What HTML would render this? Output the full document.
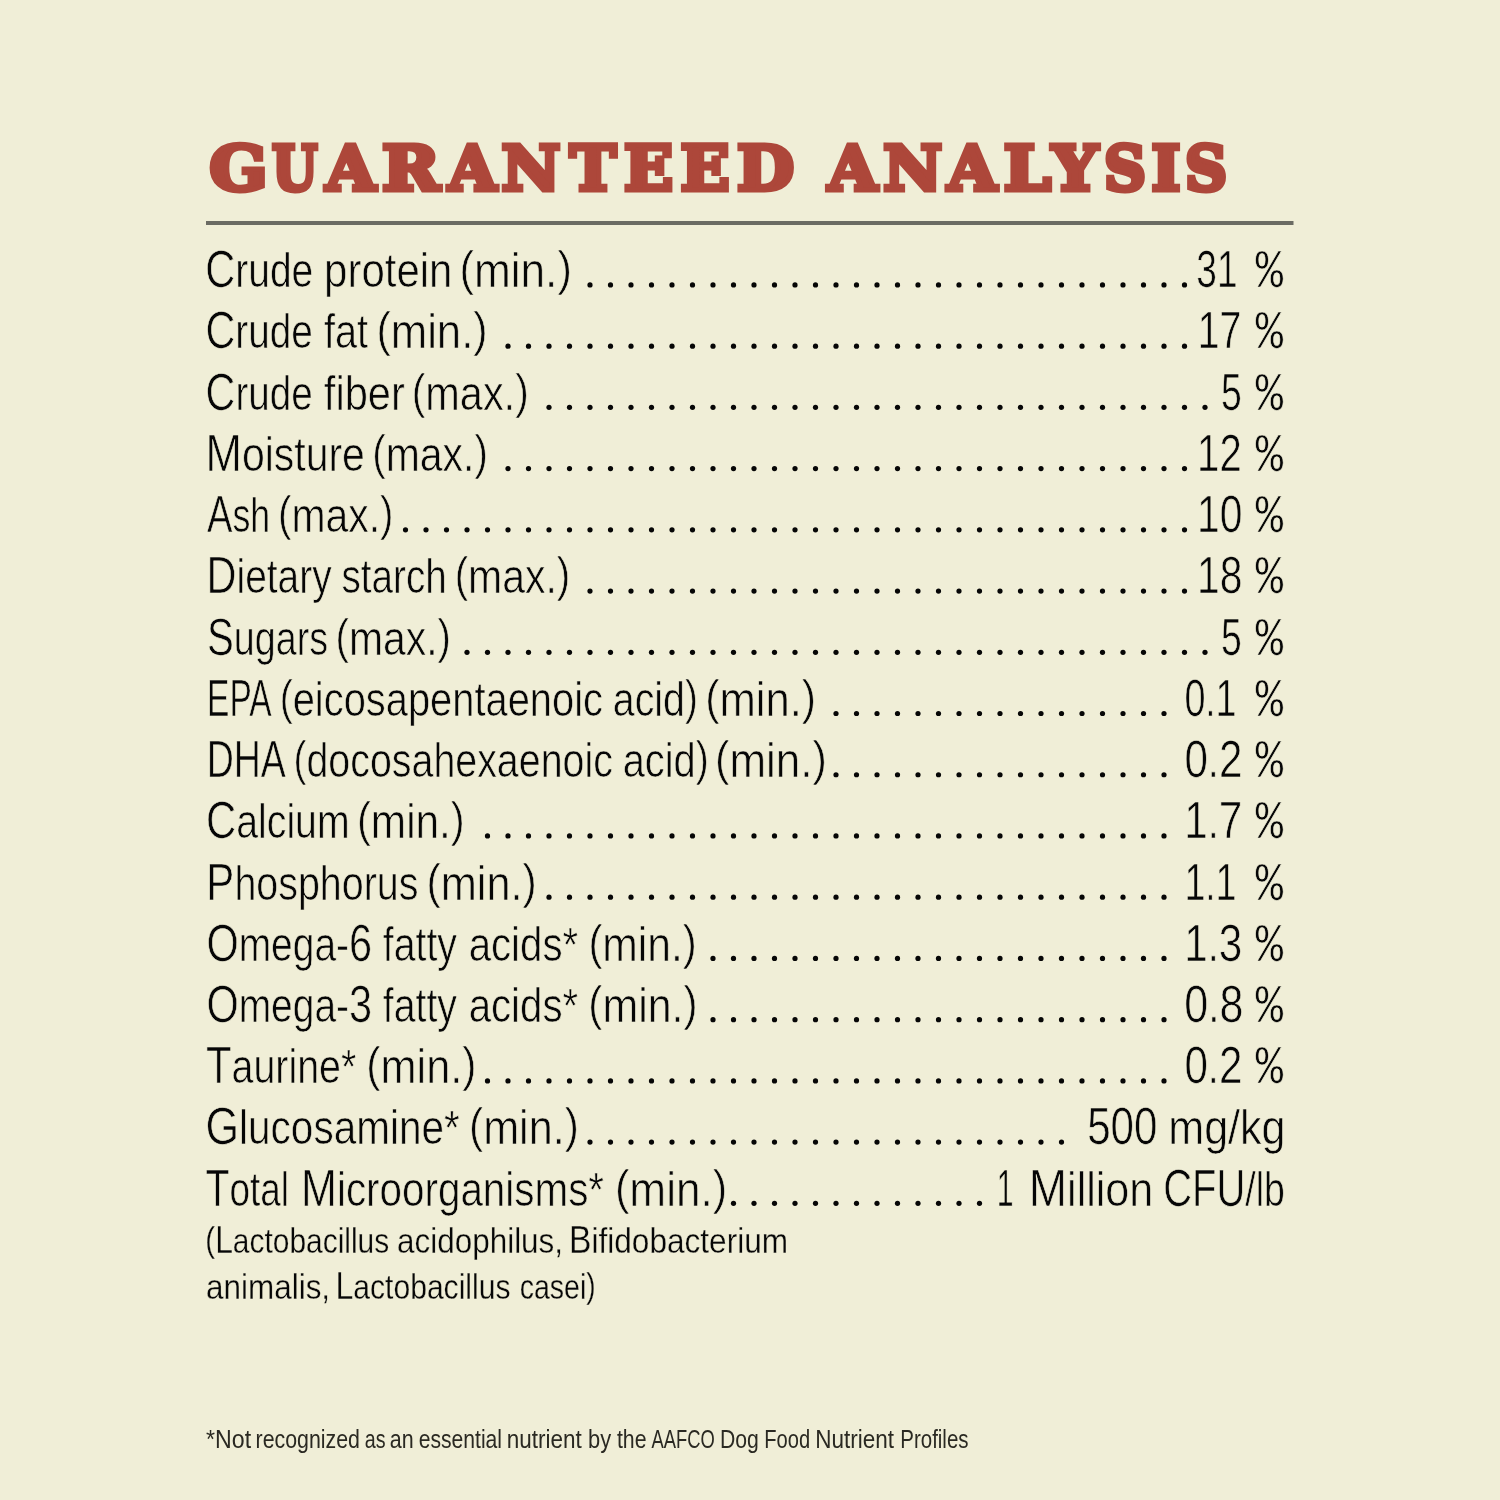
<!DOCTYPE html>
<html lang="en"><head><meta charset="utf-8"><title>Guaranteed Analysis</title>
<style>html,body{margin:0;padding:0;background:#f0eed7;overflow:hidden;}svg{display:block;will-change:transform;}</style></head>
<body>
<svg width="1500" height="1500" viewBox="0 0 1500 1500">
<rect width="1500" height="1500" fill="#f0eed7"/>
<text y="190.00" font-family="DejaVu Serif, serif" font-weight="bold" font-size="61.73" fill="#ad473a" stroke="#ad473a" stroke-width="5.0" stroke-linejoin="miter"><tspan x="209.60" textLength="58.02" lengthAdjust="spacingAndGlyphs">G</tspan><tspan x="272.03" textLength="45.41" lengthAdjust="spacingAndGlyphs">U</tspan><tspan x="325.81" textLength="49.87" lengthAdjust="spacingAndGlyphs">A</tspan><tspan x="381.96" textLength="57.82" lengthAdjust="spacingAndGlyphs">R</tspan><tspan x="448.30" textLength="48.19" lengthAdjust="spacingAndGlyphs">A</tspan><tspan x="501.48" textLength="58.89" lengthAdjust="spacingAndGlyphs">N</tspan><tspan x="569.72" textLength="46.39" lengthAdjust="spacingAndGlyphs">T</tspan><tspan x="623.99" textLength="49.10" lengthAdjust="spacingAndGlyphs">E</tspan><tspan x="680.59" textLength="49.10" lengthAdjust="spacingAndGlyphs">E</tspan><tspan x="737.08" textLength="57.02" lengthAdjust="spacingAndGlyphs">D</tspan> <tspan x="827.96" textLength="49.16" lengthAdjust="spacingAndGlyphs">A</tspan><tspan x="883.38" textLength="58.89" lengthAdjust="spacingAndGlyphs">N</tspan><tspan x="947.46" textLength="49.16" lengthAdjust="spacingAndGlyphs">A</tspan><tspan x="1003.67" textLength="47.18" lengthAdjust="spacingAndGlyphs">L</tspan><tspan x="1052.07" textLength="45.93" lengthAdjust="spacingAndGlyphs">Y</tspan><tspan x="1104.02" textLength="42.02" lengthAdjust="spacingAndGlyphs">S</tspan><tspan x="1151.51" textLength="28.93" lengthAdjust="spacingAndGlyphs">I</tspan><tspan x="1185.02" textLength="42.12" lengthAdjust="spacingAndGlyphs">S</tspan></text>
<rect x="206" y="221" width="1087.5" height="4" fill="#6b6b63"/>
<text y="287.20" font-family="'Liberation Sans', sans-serif" font-size="48.8" fill="#060606" stroke="#f0eed7" stroke-width="0.67"><tspan x="205.20" textLength="108.08" lengthAdjust="spacingAndGlyphs"><tspan font-size="52.00">C</tspan>rude</tspan> <tspan x="324.12" textLength="128.23" lengthAdjust="spacingAndGlyphs">protein</tspan> <tspan x="459.48" textLength="112.37" lengthAdjust="spacingAndGlyphs"><tspan font-size="48.00" baseline-shift="2.00">(</tspan>min.<tspan font-size="48.00" baseline-shift="2.00">)</tspan></tspan></text>
<text y="287.20" font-family="'Liberation Sans', sans-serif" font-size="48.8" fill="#060606" stroke="#f0eed7" stroke-width="0.67"><tspan x="1196.37" textLength="41.25" lengthAdjust="spacingAndGlyphs"><tspan font-size="52.00">31</tspan></tspan> <tspan x="1255.40" textLength="27.69" lengthAdjust="spacingAndGlyphs" font-family="'Liberation Mono', monospace" font-size="54">%</tspan></text>
<text y="348.43" font-family="'Liberation Sans', sans-serif" font-size="48.8" fill="#060606" stroke="#f0eed7" stroke-width="0.67"><tspan x="205.52" textLength="107.36" lengthAdjust="spacingAndGlyphs"><tspan font-size="52.00">C</tspan>rude</tspan> <tspan x="323.89" textLength="44.13" lengthAdjust="spacingAndGlyphs">fat</tspan> <tspan x="376.41" textLength="111.21" lengthAdjust="spacingAndGlyphs"><tspan font-size="48.00" baseline-shift="2.00">(</tspan>min.<tspan font-size="48.00" baseline-shift="2.00">)</tspan></tspan></text>
<text y="348.43" font-family="'Liberation Sans', sans-serif" font-size="48.8" fill="#060606" stroke="#f0eed7" stroke-width="0.67"><tspan x="1197.79" textLength="43.55" lengthAdjust="spacingAndGlyphs"><tspan font-size="52.00">17</tspan></tspan> <tspan x="1255.40" textLength="27.69" lengthAdjust="spacingAndGlyphs" font-family="'Liberation Mono', monospace" font-size="54">%</tspan></text>
<text y="409.66" font-family="'Liberation Sans', sans-serif" font-size="48.8" fill="#060606" stroke="#f0eed7" stroke-width="0.67"><tspan x="205.62" textLength="107.15" lengthAdjust="spacingAndGlyphs"><tspan font-size="52.00">C</tspan>rude</tspan> <tspan x="323.85" textLength="80.95" lengthAdjust="spacingAndGlyphs">fiber</tspan> <tspan x="411.75" textLength="116.96" lengthAdjust="spacingAndGlyphs"><tspan font-size="48.00" baseline-shift="2.00">(</tspan>max.<tspan font-size="48.00" baseline-shift="2.00">)</tspan></tspan></text>
<text y="409.66" font-family="'Liberation Sans', sans-serif" font-size="48.8" fill="#060606" stroke="#f0eed7" stroke-width="0.67"><tspan x="1220.96" textLength="20.82" lengthAdjust="spacingAndGlyphs"><tspan font-size="52.00">5</tspan></tspan> <tspan x="1255.40" textLength="27.69" lengthAdjust="spacingAndGlyphs" font-family="'Liberation Mono', monospace" font-size="54">%</tspan></text>
<text y="470.89" font-family="'Liberation Sans', sans-serif" font-size="48.8" fill="#060606" stroke="#f0eed7" stroke-width="0.67"><tspan x="205.54" textLength="159.37" lengthAdjust="spacingAndGlyphs"><tspan font-size="52.00">M</tspan>oisture</tspan> <tspan x="372.28" textLength="115.60" lengthAdjust="spacingAndGlyphs"><tspan font-size="48.00" baseline-shift="2.00">(</tspan>max.<tspan font-size="48.00" baseline-shift="2.00">)</tspan></tspan></text>
<text y="470.89" font-family="'Liberation Sans', sans-serif" font-size="48.8" fill="#060606" stroke="#f0eed7" stroke-width="0.67"><tspan x="1197.12" textLength="44.57" lengthAdjust="spacingAndGlyphs"><tspan font-size="52.00">12</tspan></tspan> <tspan x="1255.40" textLength="27.69" lengthAdjust="spacingAndGlyphs" font-family="'Liberation Mono', monospace" font-size="54">%</tspan></text>
<text y="532.12" font-family="'Liberation Sans', sans-serif" font-size="48.8" fill="#060606" stroke="#f0eed7" stroke-width="0.67"><tspan x="207.00" textLength="63.27" lengthAdjust="spacingAndGlyphs"><tspan font-size="52.00">A</tspan>sh</tspan> <tspan x="278.09" textLength="115.39" lengthAdjust="spacingAndGlyphs"><tspan font-size="48.00" baseline-shift="2.00">(</tspan>max.<tspan font-size="48.00" baseline-shift="2.00">)</tspan></tspan></text>
<text y="532.12" font-family="'Liberation Sans', sans-serif" font-size="48.8" fill="#060606" stroke="#f0eed7" stroke-width="0.67"><tspan x="1197.06" textLength="45.39" lengthAdjust="spacingAndGlyphs"><tspan font-size="52.00">10</tspan></tspan> <tspan x="1255.40" textLength="27.69" lengthAdjust="spacingAndGlyphs" font-family="'Liberation Mono', monospace" font-size="54">%</tspan></text>
<text y="593.35" font-family="'Liberation Sans', sans-serif" font-size="48.8" fill="#060606" stroke="#f0eed7" stroke-width="0.67"><tspan x="206.61" textLength="125.00" lengthAdjust="spacingAndGlyphs"><tspan font-size="52.00">D</tspan>ietary</tspan> <tspan x="341.52" textLength="105.27" lengthAdjust="spacingAndGlyphs">starch</tspan> <tspan x="454.68" textLength="115.60" lengthAdjust="spacingAndGlyphs"><tspan font-size="48.00" baseline-shift="2.00">(</tspan>max.<tspan font-size="48.00" baseline-shift="2.00">)</tspan></tspan></text>
<text y="593.35" font-family="'Liberation Sans', sans-serif" font-size="48.8" fill="#060606" stroke="#f0eed7" stroke-width="0.67"><tspan x="1197.06" textLength="45.39" lengthAdjust="spacingAndGlyphs"><tspan font-size="52.00">18</tspan></tspan> <tspan x="1255.40" textLength="27.69" lengthAdjust="spacingAndGlyphs" font-family="'Liberation Mono', monospace" font-size="54">%</tspan></text>
<text y="654.58" font-family="'Liberation Sans', sans-serif" font-size="48.8" fill="#060606" stroke="#f0eed7" stroke-width="0.67"><tspan x="206.95" textLength="121.11" lengthAdjust="spacingAndGlyphs"><tspan font-size="52.00">S</tspan>ugars</tspan> <tspan x="335.59" textLength="115.39" lengthAdjust="spacingAndGlyphs"><tspan font-size="48.00" baseline-shift="2.00">(</tspan>max.<tspan font-size="48.00" baseline-shift="2.00">)</tspan></tspan></text>
<text y="654.58" font-family="'Liberation Sans', sans-serif" font-size="48.8" fill="#060606" stroke="#f0eed7" stroke-width="0.67"><tspan x="1220.96" textLength="20.82" lengthAdjust="spacingAndGlyphs"><tspan font-size="52.00">5</tspan></tspan> <tspan x="1255.40" textLength="27.69" lengthAdjust="spacingAndGlyphs" font-family="'Liberation Mono', monospace" font-size="54">%</tspan></text>
<text y="715.81" font-family="'Liberation Sans', sans-serif" font-size="48.8" fill="#060606" stroke="#f0eed7" stroke-width="0.67"><tspan x="207.02" textLength="64.61" lengthAdjust="spacingAndGlyphs"><tspan font-size="52.00">EPA</tspan></tspan> <tspan x="279.65" textLength="323.31" lengthAdjust="spacingAndGlyphs"><tspan font-size="48.00" baseline-shift="2.00">(</tspan>eicosapentaenoic</tspan> <tspan x="612.79" textLength="85.04" lengthAdjust="spacingAndGlyphs">acid<tspan font-size="48.00" baseline-shift="2.00">)</tspan></tspan> <tspan x="705.22" textLength="110.90" lengthAdjust="spacingAndGlyphs"><tspan font-size="48.00" baseline-shift="2.00">(</tspan>min.<tspan font-size="48.00" baseline-shift="2.00">)</tspan></tspan></text>
<text y="715.81" font-family="'Liberation Sans', sans-serif" font-size="48.8" fill="#060606" stroke="#f0eed7" stroke-width="0.67"><tspan x="1184.55" textLength="51.90" lengthAdjust="spacingAndGlyphs"><tspan font-size="52.00">0</tspan>.<tspan font-size="52.00">1</tspan></tspan> <tspan x="1255.40" textLength="27.69" lengthAdjust="spacingAndGlyphs" font-family="'Liberation Mono', monospace" font-size="54">%</tspan></text>
<text y="777.04" font-family="'Liberation Sans', sans-serif" font-size="48.8" fill="#060606" stroke="#f0eed7" stroke-width="0.67"><tspan x="206.72" textLength="79.16" lengthAdjust="spacingAndGlyphs"><tspan font-size="52.00">DHA</tspan></tspan> <tspan x="293.58" textLength="319.28" lengthAdjust="spacingAndGlyphs"><tspan font-size="48.00" baseline-shift="2.00">(</tspan>docosahexaenoic</tspan> <tspan x="622.67" textLength="86.19" lengthAdjust="spacingAndGlyphs">acid<tspan font-size="48.00" baseline-shift="2.00">)</tspan></tspan> <tspan x="715.10" textLength="111.74" lengthAdjust="spacingAndGlyphs"><tspan font-size="48.00" baseline-shift="2.00">(</tspan>min.<tspan font-size="48.00" baseline-shift="2.00">)</tspan></tspan></text>
<text y="777.04" font-family="'Liberation Sans', sans-serif" font-size="48.8" fill="#060606" stroke="#f0eed7" stroke-width="0.67"><tspan x="1184.38" textLength="57.98" lengthAdjust="spacingAndGlyphs"><tspan font-size="52.00">0</tspan>.<tspan font-size="52.00">2</tspan></tspan> <tspan x="1255.40" textLength="27.69" lengthAdjust="spacingAndGlyphs" font-family="'Liberation Mono', monospace" font-size="54">%</tspan></text>
<text y="838.27" font-family="'Liberation Sans', sans-serif" font-size="48.8" fill="#060606" stroke="#f0eed7" stroke-width="0.67"><tspan x="205.99" textLength="143.69" lengthAdjust="spacingAndGlyphs"><tspan font-size="52.00">C</tspan>alcium</tspan> <tspan x="357.00" textLength="107.74" lengthAdjust="spacingAndGlyphs"><tspan font-size="48.00" baseline-shift="2.00">(</tspan>min.<tspan font-size="48.00" baseline-shift="2.00">)</tspan></tspan></text>
<text y="838.27" font-family="'Liberation Sans', sans-serif" font-size="48.8" fill="#060606" stroke="#f0eed7" stroke-width="0.67"><tspan x="1184.24" textLength="58.11" lengthAdjust="spacingAndGlyphs"><tspan font-size="52.00">1</tspan>.<tspan font-size="52.00">7</tspan></tspan> <tspan x="1255.40" textLength="27.69" lengthAdjust="spacingAndGlyphs" font-family="'Liberation Mono', monospace" font-size="54">%</tspan></text>
<text y="899.50" font-family="'Liberation Sans', sans-serif" font-size="48.8" fill="#060606" stroke="#f0eed7" stroke-width="0.67"><tspan x="206.37" textLength="212.11" lengthAdjust="spacingAndGlyphs"><tspan font-size="52.00">P</tspan>hosphorus</tspan> <tspan x="426.54" textLength="110.27" lengthAdjust="spacingAndGlyphs"><tspan font-size="48.00" baseline-shift="2.00">(</tspan>min.<tspan font-size="48.00" baseline-shift="2.00">)</tspan></tspan></text>
<text y="899.50" font-family="'Liberation Sans', sans-serif" font-size="48.8" fill="#060606" stroke="#f0eed7" stroke-width="0.67"><tspan x="1184.60" textLength="51.85" lengthAdjust="spacingAndGlyphs"><tspan font-size="52.00">1</tspan>.<tspan font-size="52.00">1</tspan></tspan> <tspan x="1255.40" textLength="27.69" lengthAdjust="spacingAndGlyphs" font-family="'Liberation Mono', monospace" font-size="54">%</tspan></text>
<text y="960.73" font-family="'Liberation Sans', sans-serif" font-size="48.8" fill="#060606" stroke="#f0eed7" stroke-width="0.67"><tspan x="206.40" textLength="165.75" lengthAdjust="spacingAndGlyphs"><tspan font-size="52.00">O</tspan>mega-<tspan font-size="52.00">6</tspan></tspan> <tspan x="382.80" textLength="74.08" lengthAdjust="spacingAndGlyphs">fatty</tspan> <tspan x="468.65" textLength="109.49" lengthAdjust="spacingAndGlyphs">acids*</tspan> <tspan x="588.38" textLength="108.37" lengthAdjust="spacingAndGlyphs"><tspan font-size="48.00" baseline-shift="2.00">(</tspan>min.<tspan font-size="48.00" baseline-shift="2.00">)</tspan></tspan></text>
<text y="960.73" font-family="'Liberation Sans', sans-serif" font-size="48.8" fill="#060606" stroke="#f0eed7" stroke-width="0.67"><tspan x="1184.24" textLength="58.11" lengthAdjust="spacingAndGlyphs"><tspan font-size="52.00">1</tspan>.<tspan font-size="52.00">3</tspan></tspan> <tspan x="1255.40" textLength="27.69" lengthAdjust="spacingAndGlyphs" font-family="'Liberation Mono', monospace" font-size="54">%</tspan></text>
<text y="1021.96" font-family="'Liberation Sans', sans-serif" font-size="48.8" fill="#060606" stroke="#f0eed7" stroke-width="0.67"><tspan x="206.40" textLength="165.75" lengthAdjust="spacingAndGlyphs"><tspan font-size="52.00">O</tspan>mega-<tspan font-size="52.00">3</tspan></tspan> <tspan x="382.80" textLength="74.08" lengthAdjust="spacingAndGlyphs">fatty</tspan> <tspan x="468.65" textLength="109.49" lengthAdjust="spacingAndGlyphs">acids*</tspan> <tspan x="588.36" textLength="109.11" lengthAdjust="spacingAndGlyphs"><tspan font-size="48.00" baseline-shift="2.00">(</tspan>min.<tspan font-size="48.00" baseline-shift="2.00">)</tspan></tspan></text>
<text y="1021.96" font-family="'Liberation Sans', sans-serif" font-size="48.8" fill="#060606" stroke="#f0eed7" stroke-width="0.67"><tspan x="1184.34" textLength="59.15" lengthAdjust="spacingAndGlyphs"><tspan font-size="52.00">0</tspan>.<tspan font-size="52.00">8</tspan></tspan> <tspan x="1255.40" textLength="27.69" lengthAdjust="spacingAndGlyphs" font-family="'Liberation Mono', monospace" font-size="54">%</tspan></text>
<text y="1083.19" font-family="'Liberation Sans', sans-serif" font-size="48.8" fill="#060606" stroke="#f0eed7" stroke-width="0.67"><tspan x="205.99" textLength="150.33" lengthAdjust="spacingAndGlyphs"><tspan font-size="52.00">T</tspan>aurine*</tspan> <tspan x="366.34" textLength="110.06" lengthAdjust="spacingAndGlyphs"><tspan font-size="48.00" baseline-shift="2.00">(</tspan>min.<tspan font-size="48.00" baseline-shift="2.00">)</tspan></tspan></text>
<text y="1083.19" font-family="'Liberation Sans', sans-serif" font-size="48.8" fill="#060606" stroke="#f0eed7" stroke-width="0.67"><tspan x="1184.38" textLength="57.98" lengthAdjust="spacingAndGlyphs"><tspan font-size="52.00">0</tspan>.<tspan font-size="52.00">2</tspan></tspan> <tspan x="1255.40" textLength="27.69" lengthAdjust="spacingAndGlyphs" font-family="'Liberation Mono', monospace" font-size="54">%</tspan></text>
<text y="1144.42" font-family="'Liberation Sans', sans-serif" font-size="48.8" fill="#060606" stroke="#f0eed7" stroke-width="0.67"><tspan x="205.51" textLength="254.24" lengthAdjust="spacingAndGlyphs"><tspan font-size="52.00">G</tspan>lucosamine*</tspan> <tspan x="469.05" textLength="109.74" lengthAdjust="spacingAndGlyphs"><tspan font-size="48.00" baseline-shift="2.00">(</tspan>min.<tspan font-size="48.00" baseline-shift="2.00">)</tspan></tspan></text>
<text y="1144.42" font-family="'Liberation Sans', sans-serif" font-size="48.8" fill="#060606" stroke="#f0eed7" stroke-width="0.67"><tspan x="1087.18" textLength="70.25" lengthAdjust="spacingAndGlyphs"><tspan font-size="52.00">500</tspan></tspan> <tspan x="1168.25" textLength="117.30" lengthAdjust="spacingAndGlyphs">mg/kg</tspan></text>
<text y="1205.65" font-family="'Liberation Sans', sans-serif" font-size="48.8" fill="#060606" stroke="#f0eed7" stroke-width="0.67"><tspan x="205.54" textLength="83.47" lengthAdjust="spacingAndGlyphs"><tspan font-size="52.00">T</tspan>otal</tspan> <tspan x="301.09" textLength="302.98" lengthAdjust="spacingAndGlyphs"><tspan font-size="52.00">M</tspan>icroorganisms*</tspan> <tspan x="614.88" textLength="112.37" lengthAdjust="spacingAndGlyphs"><tspan font-size="48.00" baseline-shift="2.00">(</tspan>min.<tspan font-size="48.00" baseline-shift="2.00">)</tspan></tspan></text>
<text y="1205.65" font-family="'Liberation Sans', sans-serif" font-size="48.8" fill="#060606" stroke="#f0eed7" stroke-width="0.67"><tspan x="996.87" textLength="16.83" lengthAdjust="spacingAndGlyphs"><tspan font-size="52.00">1</tspan></tspan> <tspan x="1028.77" textLength="124.57" lengthAdjust="spacingAndGlyphs"><tspan font-size="52.00">M</tspan>illion</tspan> <tspan x="1163.30" textLength="121.56" lengthAdjust="spacingAndGlyphs"><tspan font-size="52.00">CFU</tspan>/lb</tspan></text>
<text y="1252.70" font-family="'Liberation Sans', sans-serif" font-size="35.88" fill="#060606" stroke="#f0eed7" stroke-width="0.30"><tspan x="205.33" textLength="183.89" lengthAdjust="spacingAndGlyphs"><tspan font-size="35.29" baseline-shift="1.47">(</tspan><tspan font-size="38.24">L</tspan>actobacillus</tspan> <tspan x="397.12" textLength="165.91" lengthAdjust="spacingAndGlyphs">acidophilus,</tspan> <tspan x="569.06" textLength="218.96" lengthAdjust="spacingAndGlyphs"><tspan font-size="38.24">B</tspan>ifidobacterium</tspan></text>
<text y="1299.00" font-family="'Liberation Sans', sans-serif" font-size="35.88" fill="#060606" stroke="#f0eed7" stroke-width="0.30"><tspan x="206.12" textLength="124.00" lengthAdjust="spacingAndGlyphs">animalis,</tspan> <tspan x="335.48" textLength="175.02" lengthAdjust="spacingAndGlyphs"><tspan font-size="38.24">L</tspan>actobacillus</tspan> <tspan x="519.71" textLength="75.89" lengthAdjust="spacingAndGlyphs">casei<tspan font-size="35.29" baseline-shift="1.47">)</tspan></tspan></text>
<text y="1447.70" font-family="'Liberation Sans', sans-serif" font-size="25.7" fill="#2a2922"><tspan x="206.00" textLength="45.09" lengthAdjust="spacingAndGlyphs">*Not</tspan> <tspan x="255.54" textLength="104.45" lengthAdjust="spacingAndGlyphs">recognized</tspan> <tspan x="364.74" textLength="20.74" lengthAdjust="spacingAndGlyphs">as</tspan> <tspan x="389.77" textLength="23.85" lengthAdjust="spacingAndGlyphs">an</tspan> <tspan x="418.68" textLength="83.37" lengthAdjust="spacingAndGlyphs">essential</tspan> <tspan x="506.85" textLength="74.98" lengthAdjust="spacingAndGlyphs">nutrient</tspan> <tspan x="588.10" textLength="23.12" lengthAdjust="spacingAndGlyphs">by</tspan> <tspan x="616.90" textLength="29.60" lengthAdjust="spacingAndGlyphs">the</tspan> <tspan x="651.50" textLength="63.27" lengthAdjust="spacingAndGlyphs">AAFCO</tspan> <tspan x="719.95" textLength="38.88" lengthAdjust="spacingAndGlyphs">Dog</tspan> <tspan x="764.23" textLength="45.89" lengthAdjust="spacingAndGlyphs">Food</tspan> <tspan x="815.15" textLength="78.81" lengthAdjust="spacingAndGlyphs">Nutrient</tspan> <tspan x="900.31" textLength="68.22" lengthAdjust="spacingAndGlyphs">Profiles</tspan></text>
<g fill="#060606"><circle cx="590.00" cy="284.90" r="2.6"/><circle cx="610.50" cy="284.90" r="2.6"/><circle cx="631.00" cy="284.90" r="2.6"/><circle cx="651.50" cy="284.90" r="2.6"/><circle cx="672.00" cy="284.90" r="2.6"/><circle cx="692.50" cy="284.90" r="2.6"/><circle cx="713.00" cy="284.90" r="2.6"/><circle cx="733.50" cy="284.90" r="2.6"/><circle cx="754.00" cy="284.90" r="2.6"/><circle cx="774.50" cy="284.90" r="2.6"/><circle cx="795.00" cy="284.90" r="2.6"/><circle cx="815.50" cy="284.90" r="2.6"/><circle cx="836.00" cy="284.90" r="2.6"/><circle cx="856.50" cy="284.90" r="2.6"/><circle cx="877.00" cy="284.90" r="2.6"/><circle cx="897.50" cy="284.90" r="2.6"/><circle cx="918.00" cy="284.90" r="2.6"/><circle cx="938.50" cy="284.90" r="2.6"/><circle cx="959.00" cy="284.90" r="2.6"/><circle cx="979.50" cy="284.90" r="2.6"/><circle cx="1000.00" cy="284.90" r="2.6"/><circle cx="1020.50" cy="284.90" r="2.6"/><circle cx="1041.00" cy="284.90" r="2.6"/><circle cx="1061.50" cy="284.90" r="2.6"/><circle cx="1082.00" cy="284.90" r="2.6"/><circle cx="1102.50" cy="284.90" r="2.6"/><circle cx="1123.00" cy="284.90" r="2.6"/><circle cx="1143.50" cy="284.90" r="2.6"/><circle cx="1164.00" cy="284.90" r="2.6"/><circle cx="1184.50" cy="284.90" r="2.6"/><circle cx="508.00" cy="346.13" r="2.6"/><circle cx="528.50" cy="346.13" r="2.6"/><circle cx="549.00" cy="346.13" r="2.6"/><circle cx="569.50" cy="346.13" r="2.6"/><circle cx="590.00" cy="346.13" r="2.6"/><circle cx="610.50" cy="346.13" r="2.6"/><circle cx="631.00" cy="346.13" r="2.6"/><circle cx="651.50" cy="346.13" r="2.6"/><circle cx="672.00" cy="346.13" r="2.6"/><circle cx="692.50" cy="346.13" r="2.6"/><circle cx="713.00" cy="346.13" r="2.6"/><circle cx="733.50" cy="346.13" r="2.6"/><circle cx="754.00" cy="346.13" r="2.6"/><circle cx="774.50" cy="346.13" r="2.6"/><circle cx="795.00" cy="346.13" r="2.6"/><circle cx="815.50" cy="346.13" r="2.6"/><circle cx="836.00" cy="346.13" r="2.6"/><circle cx="856.50" cy="346.13" r="2.6"/><circle cx="877.00" cy="346.13" r="2.6"/><circle cx="897.50" cy="346.13" r="2.6"/><circle cx="918.00" cy="346.13" r="2.6"/><circle cx="938.50" cy="346.13" r="2.6"/><circle cx="959.00" cy="346.13" r="2.6"/><circle cx="979.50" cy="346.13" r="2.6"/><circle cx="1000.00" cy="346.13" r="2.6"/><circle cx="1020.50" cy="346.13" r="2.6"/><circle cx="1041.00" cy="346.13" r="2.6"/><circle cx="1061.50" cy="346.13" r="2.6"/><circle cx="1082.00" cy="346.13" r="2.6"/><circle cx="1102.50" cy="346.13" r="2.6"/><circle cx="1123.00" cy="346.13" r="2.6"/><circle cx="1143.50" cy="346.13" r="2.6"/><circle cx="1164.00" cy="346.13" r="2.6"/><circle cx="1184.50" cy="346.13" r="2.6"/><circle cx="549.00" cy="407.36" r="2.6"/><circle cx="569.50" cy="407.36" r="2.6"/><circle cx="590.00" cy="407.36" r="2.6"/><circle cx="610.50" cy="407.36" r="2.6"/><circle cx="631.00" cy="407.36" r="2.6"/><circle cx="651.50" cy="407.36" r="2.6"/><circle cx="672.00" cy="407.36" r="2.6"/><circle cx="692.50" cy="407.36" r="2.6"/><circle cx="713.00" cy="407.36" r="2.6"/><circle cx="733.50" cy="407.36" r="2.6"/><circle cx="754.00" cy="407.36" r="2.6"/><circle cx="774.50" cy="407.36" r="2.6"/><circle cx="795.00" cy="407.36" r="2.6"/><circle cx="815.50" cy="407.36" r="2.6"/><circle cx="836.00" cy="407.36" r="2.6"/><circle cx="856.50" cy="407.36" r="2.6"/><circle cx="877.00" cy="407.36" r="2.6"/><circle cx="897.50" cy="407.36" r="2.6"/><circle cx="918.00" cy="407.36" r="2.6"/><circle cx="938.50" cy="407.36" r="2.6"/><circle cx="959.00" cy="407.36" r="2.6"/><circle cx="979.50" cy="407.36" r="2.6"/><circle cx="1000.00" cy="407.36" r="2.6"/><circle cx="1020.50" cy="407.36" r="2.6"/><circle cx="1041.00" cy="407.36" r="2.6"/><circle cx="1061.50" cy="407.36" r="2.6"/><circle cx="1082.00" cy="407.36" r="2.6"/><circle cx="1102.50" cy="407.36" r="2.6"/><circle cx="1123.00" cy="407.36" r="2.6"/><circle cx="1143.50" cy="407.36" r="2.6"/><circle cx="1164.00" cy="407.36" r="2.6"/><circle cx="1184.50" cy="407.36" r="2.6"/><circle cx="1205.00" cy="407.36" r="2.6"/><circle cx="508.00" cy="468.59" r="2.6"/><circle cx="528.50" cy="468.59" r="2.6"/><circle cx="549.00" cy="468.59" r="2.6"/><circle cx="569.50" cy="468.59" r="2.6"/><circle cx="590.00" cy="468.59" r="2.6"/><circle cx="610.50" cy="468.59" r="2.6"/><circle cx="631.00" cy="468.59" r="2.6"/><circle cx="651.50" cy="468.59" r="2.6"/><circle cx="672.00" cy="468.59" r="2.6"/><circle cx="692.50" cy="468.59" r="2.6"/><circle cx="713.00" cy="468.59" r="2.6"/><circle cx="733.50" cy="468.59" r="2.6"/><circle cx="754.00" cy="468.59" r="2.6"/><circle cx="774.50" cy="468.59" r="2.6"/><circle cx="795.00" cy="468.59" r="2.6"/><circle cx="815.50" cy="468.59" r="2.6"/><circle cx="836.00" cy="468.59" r="2.6"/><circle cx="856.50" cy="468.59" r="2.6"/><circle cx="877.00" cy="468.59" r="2.6"/><circle cx="897.50" cy="468.59" r="2.6"/><circle cx="918.00" cy="468.59" r="2.6"/><circle cx="938.50" cy="468.59" r="2.6"/><circle cx="959.00" cy="468.59" r="2.6"/><circle cx="979.50" cy="468.59" r="2.6"/><circle cx="1000.00" cy="468.59" r="2.6"/><circle cx="1020.50" cy="468.59" r="2.6"/><circle cx="1041.00" cy="468.59" r="2.6"/><circle cx="1061.50" cy="468.59" r="2.6"/><circle cx="1082.00" cy="468.59" r="2.6"/><circle cx="1102.50" cy="468.59" r="2.6"/><circle cx="1123.00" cy="468.59" r="2.6"/><circle cx="1143.50" cy="468.59" r="2.6"/><circle cx="1164.00" cy="468.59" r="2.6"/><circle cx="1184.50" cy="468.59" r="2.6"/><circle cx="405.50" cy="529.82" r="2.6"/><circle cx="426.00" cy="529.82" r="2.6"/><circle cx="446.50" cy="529.82" r="2.6"/><circle cx="467.00" cy="529.82" r="2.6"/><circle cx="487.50" cy="529.82" r="2.6"/><circle cx="508.00" cy="529.82" r="2.6"/><circle cx="528.50" cy="529.82" r="2.6"/><circle cx="549.00" cy="529.82" r="2.6"/><circle cx="569.50" cy="529.82" r="2.6"/><circle cx="590.00" cy="529.82" r="2.6"/><circle cx="610.50" cy="529.82" r="2.6"/><circle cx="631.00" cy="529.82" r="2.6"/><circle cx="651.50" cy="529.82" r="2.6"/><circle cx="672.00" cy="529.82" r="2.6"/><circle cx="692.50" cy="529.82" r="2.6"/><circle cx="713.00" cy="529.82" r="2.6"/><circle cx="733.50" cy="529.82" r="2.6"/><circle cx="754.00" cy="529.82" r="2.6"/><circle cx="774.50" cy="529.82" r="2.6"/><circle cx="795.00" cy="529.82" r="2.6"/><circle cx="815.50" cy="529.82" r="2.6"/><circle cx="836.00" cy="529.82" r="2.6"/><circle cx="856.50" cy="529.82" r="2.6"/><circle cx="877.00" cy="529.82" r="2.6"/><circle cx="897.50" cy="529.82" r="2.6"/><circle cx="918.00" cy="529.82" r="2.6"/><circle cx="938.50" cy="529.82" r="2.6"/><circle cx="959.00" cy="529.82" r="2.6"/><circle cx="979.50" cy="529.82" r="2.6"/><circle cx="1000.00" cy="529.82" r="2.6"/><circle cx="1020.50" cy="529.82" r="2.6"/><circle cx="1041.00" cy="529.82" r="2.6"/><circle cx="1061.50" cy="529.82" r="2.6"/><circle cx="1082.00" cy="529.82" r="2.6"/><circle cx="1102.50" cy="529.82" r="2.6"/><circle cx="1123.00" cy="529.82" r="2.6"/><circle cx="1143.50" cy="529.82" r="2.6"/><circle cx="1164.00" cy="529.82" r="2.6"/><circle cx="1184.50" cy="529.82" r="2.6"/><circle cx="590.00" cy="591.05" r="2.6"/><circle cx="610.50" cy="591.05" r="2.6"/><circle cx="631.00" cy="591.05" r="2.6"/><circle cx="651.50" cy="591.05" r="2.6"/><circle cx="672.00" cy="591.05" r="2.6"/><circle cx="692.50" cy="591.05" r="2.6"/><circle cx="713.00" cy="591.05" r="2.6"/><circle cx="733.50" cy="591.05" r="2.6"/><circle cx="754.00" cy="591.05" r="2.6"/><circle cx="774.50" cy="591.05" r="2.6"/><circle cx="795.00" cy="591.05" r="2.6"/><circle cx="815.50" cy="591.05" r="2.6"/><circle cx="836.00" cy="591.05" r="2.6"/><circle cx="856.50" cy="591.05" r="2.6"/><circle cx="877.00" cy="591.05" r="2.6"/><circle cx="897.50" cy="591.05" r="2.6"/><circle cx="918.00" cy="591.05" r="2.6"/><circle cx="938.50" cy="591.05" r="2.6"/><circle cx="959.00" cy="591.05" r="2.6"/><circle cx="979.50" cy="591.05" r="2.6"/><circle cx="1000.00" cy="591.05" r="2.6"/><circle cx="1020.50" cy="591.05" r="2.6"/><circle cx="1041.00" cy="591.05" r="2.6"/><circle cx="1061.50" cy="591.05" r="2.6"/><circle cx="1082.00" cy="591.05" r="2.6"/><circle cx="1102.50" cy="591.05" r="2.6"/><circle cx="1123.00" cy="591.05" r="2.6"/><circle cx="1143.50" cy="591.05" r="2.6"/><circle cx="1164.00" cy="591.05" r="2.6"/><circle cx="1184.50" cy="591.05" r="2.6"/><circle cx="467.00" cy="652.28" r="2.6"/><circle cx="487.50" cy="652.28" r="2.6"/><circle cx="508.00" cy="652.28" r="2.6"/><circle cx="528.50" cy="652.28" r="2.6"/><circle cx="549.00" cy="652.28" r="2.6"/><circle cx="569.50" cy="652.28" r="2.6"/><circle cx="590.00" cy="652.28" r="2.6"/><circle cx="610.50" cy="652.28" r="2.6"/><circle cx="631.00" cy="652.28" r="2.6"/><circle cx="651.50" cy="652.28" r="2.6"/><circle cx="672.00" cy="652.28" r="2.6"/><circle cx="692.50" cy="652.28" r="2.6"/><circle cx="713.00" cy="652.28" r="2.6"/><circle cx="733.50" cy="652.28" r="2.6"/><circle cx="754.00" cy="652.28" r="2.6"/><circle cx="774.50" cy="652.28" r="2.6"/><circle cx="795.00" cy="652.28" r="2.6"/><circle cx="815.50" cy="652.28" r="2.6"/><circle cx="836.00" cy="652.28" r="2.6"/><circle cx="856.50" cy="652.28" r="2.6"/><circle cx="877.00" cy="652.28" r="2.6"/><circle cx="897.50" cy="652.28" r="2.6"/><circle cx="918.00" cy="652.28" r="2.6"/><circle cx="938.50" cy="652.28" r="2.6"/><circle cx="959.00" cy="652.28" r="2.6"/><circle cx="979.50" cy="652.28" r="2.6"/><circle cx="1000.00" cy="652.28" r="2.6"/><circle cx="1020.50" cy="652.28" r="2.6"/><circle cx="1041.00" cy="652.28" r="2.6"/><circle cx="1061.50" cy="652.28" r="2.6"/><circle cx="1082.00" cy="652.28" r="2.6"/><circle cx="1102.50" cy="652.28" r="2.6"/><circle cx="1123.00" cy="652.28" r="2.6"/><circle cx="1143.50" cy="652.28" r="2.6"/><circle cx="1164.00" cy="652.28" r="2.6"/><circle cx="1184.50" cy="652.28" r="2.6"/><circle cx="1205.00" cy="652.28" r="2.6"/><circle cx="836.00" cy="713.51" r="2.6"/><circle cx="856.50" cy="713.51" r="2.6"/><circle cx="877.00" cy="713.51" r="2.6"/><circle cx="897.50" cy="713.51" r="2.6"/><circle cx="918.00" cy="713.51" r="2.6"/><circle cx="938.50" cy="713.51" r="2.6"/><circle cx="959.00" cy="713.51" r="2.6"/><circle cx="979.50" cy="713.51" r="2.6"/><circle cx="1000.00" cy="713.51" r="2.6"/><circle cx="1020.50" cy="713.51" r="2.6"/><circle cx="1041.00" cy="713.51" r="2.6"/><circle cx="1061.50" cy="713.51" r="2.6"/><circle cx="1082.00" cy="713.51" r="2.6"/><circle cx="1102.50" cy="713.51" r="2.6"/><circle cx="1123.00" cy="713.51" r="2.6"/><circle cx="1143.50" cy="713.51" r="2.6"/><circle cx="1164.00" cy="713.51" r="2.6"/><circle cx="836.00" cy="774.74" r="2.6"/><circle cx="856.50" cy="774.74" r="2.6"/><circle cx="877.00" cy="774.74" r="2.6"/><circle cx="897.50" cy="774.74" r="2.6"/><circle cx="918.00" cy="774.74" r="2.6"/><circle cx="938.50" cy="774.74" r="2.6"/><circle cx="959.00" cy="774.74" r="2.6"/><circle cx="979.50" cy="774.74" r="2.6"/><circle cx="1000.00" cy="774.74" r="2.6"/><circle cx="1020.50" cy="774.74" r="2.6"/><circle cx="1041.00" cy="774.74" r="2.6"/><circle cx="1061.50" cy="774.74" r="2.6"/><circle cx="1082.00" cy="774.74" r="2.6"/><circle cx="1102.50" cy="774.74" r="2.6"/><circle cx="1123.00" cy="774.74" r="2.6"/><circle cx="1143.50" cy="774.74" r="2.6"/><circle cx="1164.00" cy="774.74" r="2.6"/><circle cx="487.50" cy="835.97" r="2.6"/><circle cx="508.00" cy="835.97" r="2.6"/><circle cx="528.50" cy="835.97" r="2.6"/><circle cx="549.00" cy="835.97" r="2.6"/><circle cx="569.50" cy="835.97" r="2.6"/><circle cx="590.00" cy="835.97" r="2.6"/><circle cx="610.50" cy="835.97" r="2.6"/><circle cx="631.00" cy="835.97" r="2.6"/><circle cx="651.50" cy="835.97" r="2.6"/><circle cx="672.00" cy="835.97" r="2.6"/><circle cx="692.50" cy="835.97" r="2.6"/><circle cx="713.00" cy="835.97" r="2.6"/><circle cx="733.50" cy="835.97" r="2.6"/><circle cx="754.00" cy="835.97" r="2.6"/><circle cx="774.50" cy="835.97" r="2.6"/><circle cx="795.00" cy="835.97" r="2.6"/><circle cx="815.50" cy="835.97" r="2.6"/><circle cx="836.00" cy="835.97" r="2.6"/><circle cx="856.50" cy="835.97" r="2.6"/><circle cx="877.00" cy="835.97" r="2.6"/><circle cx="897.50" cy="835.97" r="2.6"/><circle cx="918.00" cy="835.97" r="2.6"/><circle cx="938.50" cy="835.97" r="2.6"/><circle cx="959.00" cy="835.97" r="2.6"/><circle cx="979.50" cy="835.97" r="2.6"/><circle cx="1000.00" cy="835.97" r="2.6"/><circle cx="1020.50" cy="835.97" r="2.6"/><circle cx="1041.00" cy="835.97" r="2.6"/><circle cx="1061.50" cy="835.97" r="2.6"/><circle cx="1082.00" cy="835.97" r="2.6"/><circle cx="1102.50" cy="835.97" r="2.6"/><circle cx="1123.00" cy="835.97" r="2.6"/><circle cx="1143.50" cy="835.97" r="2.6"/><circle cx="1164.00" cy="835.97" r="2.6"/><circle cx="549.00" cy="897.20" r="2.6"/><circle cx="569.50" cy="897.20" r="2.6"/><circle cx="590.00" cy="897.20" r="2.6"/><circle cx="610.50" cy="897.20" r="2.6"/><circle cx="631.00" cy="897.20" r="2.6"/><circle cx="651.50" cy="897.20" r="2.6"/><circle cx="672.00" cy="897.20" r="2.6"/><circle cx="692.50" cy="897.20" r="2.6"/><circle cx="713.00" cy="897.20" r="2.6"/><circle cx="733.50" cy="897.20" r="2.6"/><circle cx="754.00" cy="897.20" r="2.6"/><circle cx="774.50" cy="897.20" r="2.6"/><circle cx="795.00" cy="897.20" r="2.6"/><circle cx="815.50" cy="897.20" r="2.6"/><circle cx="836.00" cy="897.20" r="2.6"/><circle cx="856.50" cy="897.20" r="2.6"/><circle cx="877.00" cy="897.20" r="2.6"/><circle cx="897.50" cy="897.20" r="2.6"/><circle cx="918.00" cy="897.20" r="2.6"/><circle cx="938.50" cy="897.20" r="2.6"/><circle cx="959.00" cy="897.20" r="2.6"/><circle cx="979.50" cy="897.20" r="2.6"/><circle cx="1000.00" cy="897.20" r="2.6"/><circle cx="1020.50" cy="897.20" r="2.6"/><circle cx="1041.00" cy="897.20" r="2.6"/><circle cx="1061.50" cy="897.20" r="2.6"/><circle cx="1082.00" cy="897.20" r="2.6"/><circle cx="1102.50" cy="897.20" r="2.6"/><circle cx="1123.00" cy="897.20" r="2.6"/><circle cx="1143.50" cy="897.20" r="2.6"/><circle cx="1164.00" cy="897.20" r="2.6"/><circle cx="713.00" cy="958.43" r="2.6"/><circle cx="733.50" cy="958.43" r="2.6"/><circle cx="754.00" cy="958.43" r="2.6"/><circle cx="774.50" cy="958.43" r="2.6"/><circle cx="795.00" cy="958.43" r="2.6"/><circle cx="815.50" cy="958.43" r="2.6"/><circle cx="836.00" cy="958.43" r="2.6"/><circle cx="856.50" cy="958.43" r="2.6"/><circle cx="877.00" cy="958.43" r="2.6"/><circle cx="897.50" cy="958.43" r="2.6"/><circle cx="918.00" cy="958.43" r="2.6"/><circle cx="938.50" cy="958.43" r="2.6"/><circle cx="959.00" cy="958.43" r="2.6"/><circle cx="979.50" cy="958.43" r="2.6"/><circle cx="1000.00" cy="958.43" r="2.6"/><circle cx="1020.50" cy="958.43" r="2.6"/><circle cx="1041.00" cy="958.43" r="2.6"/><circle cx="1061.50" cy="958.43" r="2.6"/><circle cx="1082.00" cy="958.43" r="2.6"/><circle cx="1102.50" cy="958.43" r="2.6"/><circle cx="1123.00" cy="958.43" r="2.6"/><circle cx="1143.50" cy="958.43" r="2.6"/><circle cx="1164.00" cy="958.43" r="2.6"/><circle cx="713.00" cy="1019.66" r="2.6"/><circle cx="733.50" cy="1019.66" r="2.6"/><circle cx="754.00" cy="1019.66" r="2.6"/><circle cx="774.50" cy="1019.66" r="2.6"/><circle cx="795.00" cy="1019.66" r="2.6"/><circle cx="815.50" cy="1019.66" r="2.6"/><circle cx="836.00" cy="1019.66" r="2.6"/><circle cx="856.50" cy="1019.66" r="2.6"/><circle cx="877.00" cy="1019.66" r="2.6"/><circle cx="897.50" cy="1019.66" r="2.6"/><circle cx="918.00" cy="1019.66" r="2.6"/><circle cx="938.50" cy="1019.66" r="2.6"/><circle cx="959.00" cy="1019.66" r="2.6"/><circle cx="979.50" cy="1019.66" r="2.6"/><circle cx="1000.00" cy="1019.66" r="2.6"/><circle cx="1020.50" cy="1019.66" r="2.6"/><circle cx="1041.00" cy="1019.66" r="2.6"/><circle cx="1061.50" cy="1019.66" r="2.6"/><circle cx="1082.00" cy="1019.66" r="2.6"/><circle cx="1102.50" cy="1019.66" r="2.6"/><circle cx="1123.00" cy="1019.66" r="2.6"/><circle cx="1143.50" cy="1019.66" r="2.6"/><circle cx="1164.00" cy="1019.66" r="2.6"/><circle cx="487.50" cy="1080.89" r="2.6"/><circle cx="508.00" cy="1080.89" r="2.6"/><circle cx="528.50" cy="1080.89" r="2.6"/><circle cx="549.00" cy="1080.89" r="2.6"/><circle cx="569.50" cy="1080.89" r="2.6"/><circle cx="590.00" cy="1080.89" r="2.6"/><circle cx="610.50" cy="1080.89" r="2.6"/><circle cx="631.00" cy="1080.89" r="2.6"/><circle cx="651.50" cy="1080.89" r="2.6"/><circle cx="672.00" cy="1080.89" r="2.6"/><circle cx="692.50" cy="1080.89" r="2.6"/><circle cx="713.00" cy="1080.89" r="2.6"/><circle cx="733.50" cy="1080.89" r="2.6"/><circle cx="754.00" cy="1080.89" r="2.6"/><circle cx="774.50" cy="1080.89" r="2.6"/><circle cx="795.00" cy="1080.89" r="2.6"/><circle cx="815.50" cy="1080.89" r="2.6"/><circle cx="836.00" cy="1080.89" r="2.6"/><circle cx="856.50" cy="1080.89" r="2.6"/><circle cx="877.00" cy="1080.89" r="2.6"/><circle cx="897.50" cy="1080.89" r="2.6"/><circle cx="918.00" cy="1080.89" r="2.6"/><circle cx="938.50" cy="1080.89" r="2.6"/><circle cx="959.00" cy="1080.89" r="2.6"/><circle cx="979.50" cy="1080.89" r="2.6"/><circle cx="1000.00" cy="1080.89" r="2.6"/><circle cx="1020.50" cy="1080.89" r="2.6"/><circle cx="1041.00" cy="1080.89" r="2.6"/><circle cx="1061.50" cy="1080.89" r="2.6"/><circle cx="1082.00" cy="1080.89" r="2.6"/><circle cx="1102.50" cy="1080.89" r="2.6"/><circle cx="1123.00" cy="1080.89" r="2.6"/><circle cx="1143.50" cy="1080.89" r="2.6"/><circle cx="1164.00" cy="1080.89" r="2.6"/><circle cx="590.00" cy="1142.12" r="2.6"/><circle cx="610.50" cy="1142.12" r="2.6"/><circle cx="631.00" cy="1142.12" r="2.6"/><circle cx="651.50" cy="1142.12" r="2.6"/><circle cx="672.00" cy="1142.12" r="2.6"/><circle cx="692.50" cy="1142.12" r="2.6"/><circle cx="713.00" cy="1142.12" r="2.6"/><circle cx="733.50" cy="1142.12" r="2.6"/><circle cx="754.00" cy="1142.12" r="2.6"/><circle cx="774.50" cy="1142.12" r="2.6"/><circle cx="795.00" cy="1142.12" r="2.6"/><circle cx="815.50" cy="1142.12" r="2.6"/><circle cx="836.00" cy="1142.12" r="2.6"/><circle cx="856.50" cy="1142.12" r="2.6"/><circle cx="877.00" cy="1142.12" r="2.6"/><circle cx="897.50" cy="1142.12" r="2.6"/><circle cx="918.00" cy="1142.12" r="2.6"/><circle cx="938.50" cy="1142.12" r="2.6"/><circle cx="959.00" cy="1142.12" r="2.6"/><circle cx="979.50" cy="1142.12" r="2.6"/><circle cx="1000.00" cy="1142.12" r="2.6"/><circle cx="1020.50" cy="1142.12" r="2.6"/><circle cx="1041.00" cy="1142.12" r="2.6"/><circle cx="1061.50" cy="1142.12" r="2.6"/><circle cx="733.50" cy="1203.35" r="2.6"/><circle cx="754.00" cy="1203.35" r="2.6"/><circle cx="774.50" cy="1203.35" r="2.6"/><circle cx="795.00" cy="1203.35" r="2.6"/><circle cx="815.50" cy="1203.35" r="2.6"/><circle cx="836.00" cy="1203.35" r="2.6"/><circle cx="856.50" cy="1203.35" r="2.6"/><circle cx="877.00" cy="1203.35" r="2.6"/><circle cx="897.50" cy="1203.35" r="2.6"/><circle cx="918.00" cy="1203.35" r="2.6"/><circle cx="938.50" cy="1203.35" r="2.6"/><circle cx="959.00" cy="1203.35" r="2.6"/><circle cx="979.50" cy="1203.35" r="2.6"/></g>
</svg>
</body></html>
